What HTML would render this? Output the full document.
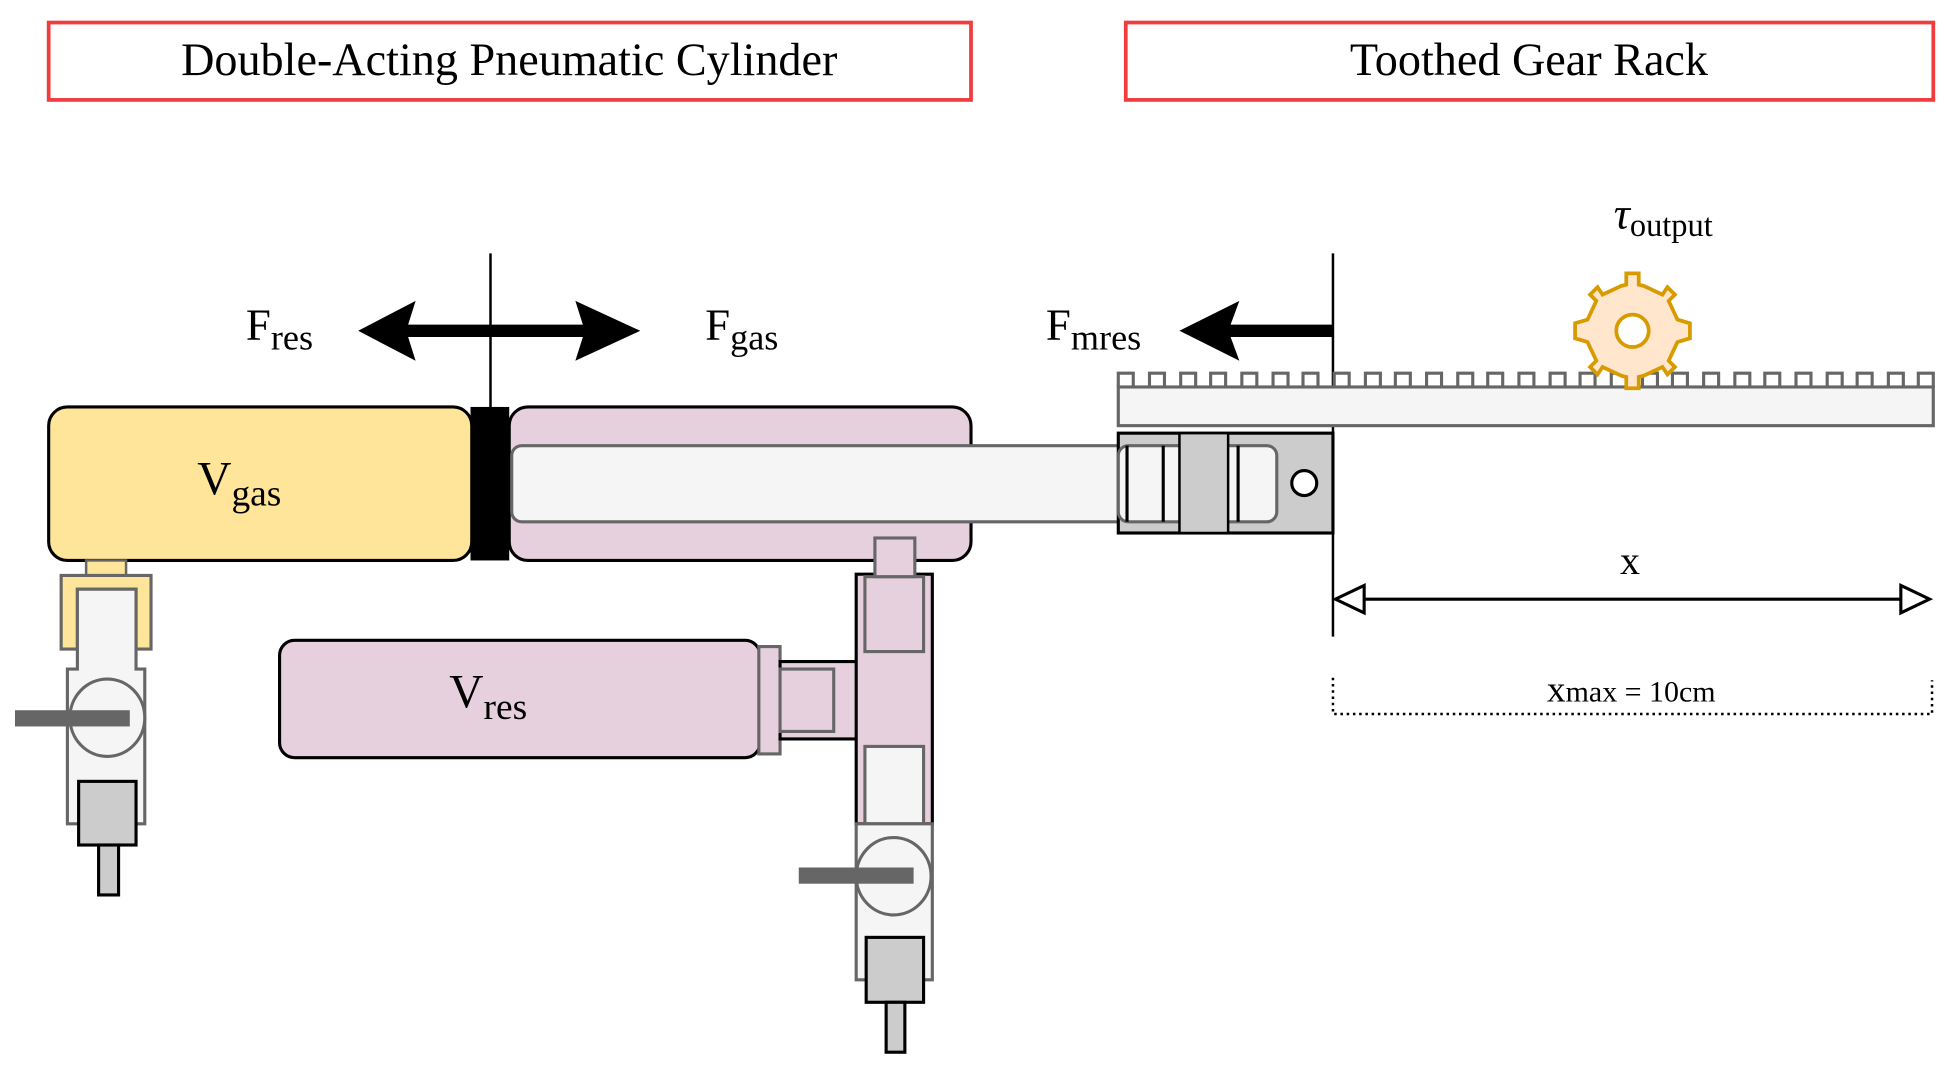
<!DOCTYPE html>
<html><head><meta charset="utf-8"><style>
html,body{margin:0;padding:0;background:#fff;width:1957px;height:1066px;overflow:hidden}
svg{display:block}
text{font-family:"Liberation Serif",serif;fill:#000}
</style></head><body>
<svg width="1957" height="1066" viewBox="0 0 1568 854" xmlns="http://www.w3.org/2000/svg">
<!-- titles -->
<rect x="39" y="18" width="739" height="62" fill="#fff" stroke="#f03c3c" stroke-width="3"/>
<text x="408" y="60" font-size="37" text-anchor="middle">Double-Acting Pneumatic Cylinder</text>
<rect x="902" y="18" width="647" height="62" fill="#fff" stroke="#f03c3c" stroke-width="3"/>
<text x="1225" y="60" font-size="37" text-anchor="middle">Toothed Gear Rack</text>

<!-- force arrows -->
<line x1="393" y1="203" x2="393" y2="330" stroke="#000" stroke-width="2"/>
<path d="M287,265 L333,241 L327,260 L467,260 L461,241 L513,265 L461,289 L467,270 L327,270 L333,289 Z" fill="#000"/>
<path d="M945,265 L993,241 L986,260 L1068,260 L1068,270 L986,270 L993,289 Z" fill="#000"/>
<line x1="1068" y1="203" x2="1068" y2="510" stroke="#000" stroke-width="2"/>
<text x="197" y="272" font-size="36">F<tspan font-size="29" dy="8">res</tspan></text>
<text x="565" y="272" font-size="36">F<tspan font-size="29" dy="8">gas</tspan></text>
<text x="838" y="272" font-size="36">F<tspan font-size="29" dy="8">mres</tspan></text>

<!-- rack -->
<rect x="896" y="310" width="653" height="31" fill="#f5f5f5" stroke="#666" stroke-width="2.5"/>
<path d="M896,310 V299 H908 V310 M921,310 V299 H933 V310 M946,310 V299 H958 V310 M970,310 V299 H982 V310 M995,310 V299 H1007 V310 M1020,310 V299 H1032 V310 M1044,310 V299 H1056 V310 M1069,310 V299 H1081 V310 M1094,310 V299 H1106 V310 M1118,310 V299 H1130 V310 M1143,310 V299 H1155 V310 M1168,310 V299 H1180 V310 M1192,310 V299 H1204 V310 M1217,310 V299 H1229 V310 M1242,310 V299 H1254 V310 M1266,310 V299 H1278 V310 M1291,310 V299 H1303 V310 M1316,310 V299 H1328 V310 M1340,310 V299 H1352 V310 M1365,310 V299 H1377 V310 M1390,310 V299 H1402 V310 M1414,310 V299 H1426 V310 M1439,310 V299 H1451 V310 M1464,310 V299 H1476 V310 M1488,310 V299 H1500 V310 M1513,310 V299 H1525 V310 M1537,310 V299 H1549 V310" fill="none" stroke="#666" stroke-width="2.5"/>

<!-- gear -->
<g transform="translate(1308,265)" fill="#ffe6cc" stroke="#d79b00" stroke-width="3">
<path d="M-5,-46 H5 V-37 L9,-36 L24,-29 L28,-35 L34,-29 L29,-24 L36,-9 L46,-6 V6 L36,9 L29,24 L34,29 L28,35 L24,29 L9,36 L5,37 V46 H-5 V37 L-9,36 L-24,29 L-28,35 L-34,29 L-29,24 L-36,9 L-46,6 V-6 L-36,-9 L-29,-24 L-34,-29 L-28,-35 L-24,-29 L-9,-36 L-5,-37 Z"/>
<circle r="13" fill="#fff"/>
</g>
<text x="1293" y="183" font-size="36" font-style="italic">τ<tspan font-style="normal" font-size="26" dy="6">output</tspan></text>

<!-- x dimension -->
<text x="1306" y="460" font-size="32" text-anchor="middle">x</text>
<line x1="1080" y1="480" x2="1525" y2="480" stroke="#000" stroke-width="2.5"/>
<path d="M1070,480 L1093,469 L1093,491 Z" fill="#fff" stroke="#000" stroke-width="2.5"/>
<path d="M1546,480 L1523,469 L1523,491 Z" fill="#fff" stroke="#000" stroke-width="2.5"/>
<path d="M1068,543 V572 H1548 V545" fill="none" stroke="#000" stroke-width="2" stroke-dasharray="2,3"/>
<text x="1307" y="562" font-size="24" text-anchor="middle"><tspan font-size="30">x</tspan>max = 10cm</text>

<!-- cylinder -->
<rect x="39" y="326" width="339" height="123" rx="15" fill="#ffe599" stroke="#000" stroke-width="2.5"/>
<rect x="408" y="326" width="370" height="123" rx="15" fill="#e6d0de" stroke="#000" stroke-width="2.5"/>
<rect x="377" y="326" width="31" height="123" fill="#000"/>
<rect x="410" y="357" width="495" height="61" rx="8" fill="#f5f5f5" stroke="#666" stroke-width="2.5"/>
<text x="158" y="396" font-size="38">V<tspan font-size="30" dy="9">gas</tspan></text>

<!-- rod end -->
<rect x="896" y="347" width="172" height="80" fill="#ccc" stroke="#000" stroke-width="2.5"/>
<rect x="896" y="357" width="127" height="61" rx="8" fill="#f5f5f5" stroke="#666" stroke-width="2.5"/>
<line x1="903" y1="357" x2="903" y2="418" stroke="#000" stroke-width="2.5"/>
<line x1="932" y1="357" x2="932" y2="418" stroke="#000" stroke-width="2.5"/>
<line x1="992" y1="357" x2="992" y2="418" stroke="#000" stroke-width="2.5"/>
<rect x="945" y="347" width="39" height="80" fill="#ccc" stroke="#000" stroke-width="2"/>
<circle cx="1045" cy="387" r="10" fill="#fff" stroke="#000" stroke-width="2.5"/>

<!-- left valve -->
<rect x="69" y="449" width="32" height="12" fill="#ffe599" stroke="#666" stroke-width="2"/>
<path d="M49,461 H121 V520 H109 V472 H62 V520 H49 Z" fill="#ffe599" stroke="#666" stroke-width="2.5"/>
<path d="M62,472 H109 V536 H116 V660 H54 V536 H62 Z" fill="#f5f5f5" stroke="#666" stroke-width="2.5"/>
<ellipse cx="86" cy="575" rx="30" ry="31" fill="#f5f5f5" stroke="#666" stroke-width="2.5"/>
<rect x="12" y="569" width="92" height="13" fill="#666"/>
<rect x="63" y="626" width="46" height="51" fill="#ccc" stroke="#000" stroke-width="2.5"/>
<rect x="79" y="677" width="16" height="40" fill="#ccc" stroke="#000" stroke-width="2.5"/>

<!-- Vres -->
<rect x="224" y="513" width="385" height="94" rx="12" fill="#e6d0de" stroke="#000" stroke-width="2.5"/>
<text x="360" y="567" font-size="38">V<tspan font-size="30" dy="9">res</tspan></text>
<rect x="608" y="518" width="17" height="86" fill="#e6d0de" stroke="#666" stroke-width="2.5"/>
<rect x="625" y="530" width="62" height="62" fill="#e6d0de" stroke="#000" stroke-width="2.5"/>
<rect x="625" y="536" width="43" height="50" fill="#e6d0de" stroke="#666" stroke-width="2.5"/>

<!-- right valve -->
<rect x="686" y="460" width="61" height="200" fill="#e6d0de" stroke="#000" stroke-width="2.5"/>
<rect x="693" y="462" width="47" height="60" fill="#e6d0de" stroke="#666" stroke-width="2.5"/>
<rect x="701" y="431" width="32" height="31" fill="#e6d0de" stroke="#666" stroke-width="2.5"/>
<rect x="693" y="598" width="47" height="62" fill="#f5f5f5" stroke="#666" stroke-width="2.5"/>
<rect x="686" y="660" width="61" height="125" fill="#f5f5f5" stroke="#666" stroke-width="2.5"/>
<ellipse cx="716" cy="702" rx="30" ry="31" fill="#f5f5f5" stroke="#666" stroke-width="2.5"/>
<rect x="640" y="695" width="92" height="13" fill="#666"/>
<rect x="694" y="751" width="46" height="52" fill="#ccc" stroke="#000" stroke-width="2.5"/>
<rect x="710" y="803" width="15" height="40" fill="#ccc" stroke="#000" stroke-width="2.5"/>
</svg>
</body></html>
